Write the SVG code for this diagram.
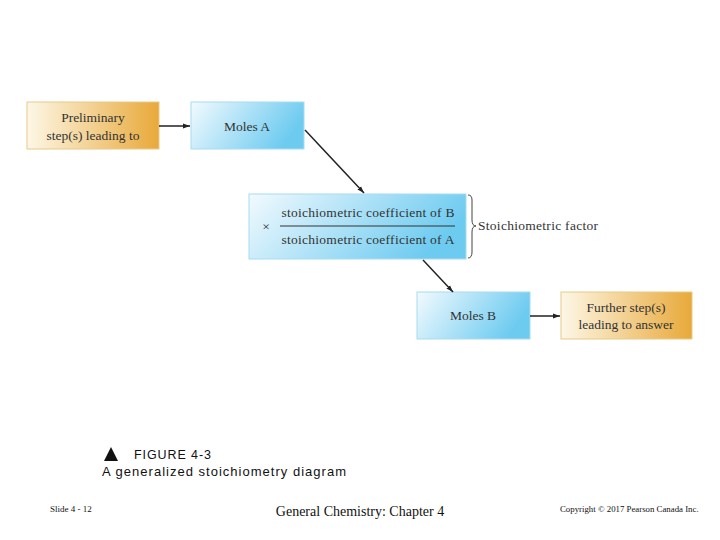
<svg xmlns="http://www.w3.org/2000/svg" width="720" height="540" viewBox="0 0 720 540">
<defs>
<linearGradient id="gold" x1="0" x2="1" y1="0" y2="0"><stop offset="0" stop-color="#fdf7e6"/><stop offset="1" stop-color="#e8a93a"/></linearGradient>
<linearGradient id="blue" x1="0" x2="1" y1="0" y2="0.3"><stop offset="0" stop-color="#f2fafe"/><stop offset="1" stop-color="#6ecbf0"/></linearGradient>
<marker id="ah" viewBox="0 0 10 10" refX="10" refY="5" markerWidth="7" markerHeight="7" orient="auto" markerUnits="userSpaceOnUse"><path d="M0,1.5 L10,5 L0,8.5 z" fill="#222"/></marker>
<style>
.t{font-family:"Liberation Serif",serif;font-size:13.5px;fill:#333;text-anchor:middle}
.gb{fill:url(#gold);stroke:#e8c98a;stroke-width:1}
.bb{fill:url(#blue);stroke:#a8dcf2;stroke-width:1}
.c{stroke:#222;stroke-width:1.5;fill:none;marker-end:url(#ah)}
</style>
</defs>
<g id="prelim"><rect class="gb" x="27" y="102" width="132" height="47"/><text class="t" x="93" y="122">Preliminary</text><text class="t" x="93" y="140">step(s) leading to</text></g>
<g id="molesA"><rect class="bb" x="191" y="102" width="113" height="47"/><text class="t" x="247" y="131">Moles A</text></g>
<g id="factor"><rect class="bb" x="249" y="194" width="217" height="65"/>
<text class="t" x="266" y="231" font-size="15">×</text>
<text class="t" x="368" y="217" textLength="173">stoichiometric coefficient of B</text>
<line x1="280" y1="226" x2="455" y2="226" stroke="#333" stroke-width="1"/>
<text class="t" x="368" y="244" textLength="173">stoichiometric coefficient of A</text>
<path d="M468,195 Q472,195 472,200 L472,220 Q472,226 476,226 Q472,226 472,232 L472,252 Q472,258 468,258" fill="none" stroke="#444" stroke-width="1"/>
<text class="t" x="538" y="230" textLength="120">Stoichiometric factor</text></g>
<g id="molesB"><rect class="bb" x="417" y="292" width="113" height="47"/><text class="t" x="473" y="320">Moles B</text></g>
<g id="further"><rect class="gb" x="561" y="292" width="131" height="47"/><text class="t" x="626" y="312">Further step(s)</text><text class="t" x="626" y="329">leading to answer</text></g>
<g id="connectors">
<line class="c" x1="159" y1="126" x2="190" y2="126"/>
<line class="c" x1="305" y1="130" x2="364" y2="193"/>
<line class="c" x1="423" y1="260" x2="453" y2="292"/>
<line class="c" x1="530" y1="316" x2="560" y2="316"/>
</g>
<g id="caption">
<path d="M104,461 L111,447 L118,461 z" fill="#111"/>
<text x="134" y="459" font-family="Liberation Sans,sans-serif" font-size="12.5" fill="#111" textLength="77">FIGURE 4-3</text>
<text x="102" y="476" font-family="Liberation Sans,sans-serif" font-size="13" fill="#111" textLength="244">A generalized stoichiometry diagram</text>
<text x="50" y="512" font-family="Liberation Serif,serif" font-size="9" fill="#111">Slide 4 - 12</text>
<text x="360" y="516" font-family="Liberation Serif,serif" font-size="14" fill="#111" text-anchor="middle">General Chemistry: Chapter 4</text>
<text x="560" y="512" font-family="Liberation Serif,serif" font-size="8.8" fill="#111">Copyright © 2017 Pearson Canada Inc.</text>
</g>
</svg>
